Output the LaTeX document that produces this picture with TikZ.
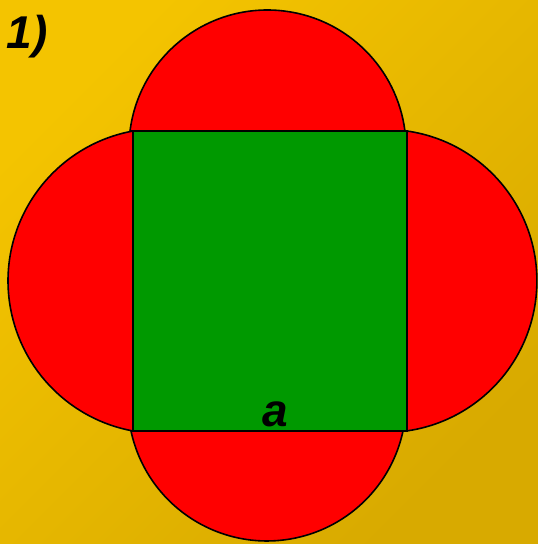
\documentclass[tikz,border=0pt]{standalone}
\usepackage{fontspec}
\setmainfont{Liberation Sans}
\usepackage{tikz}
\usetikzlibrary{positioning}
\definecolor{bgtop}{RGB}{244,196,0}
\definecolor{bgbot}{RGB}{216,170,0}
\definecolor{petalred}{RGB}{255,0,0}
\definecolor{sqgreen}{RGB}{0,153,0}
\tikzset{
  petal/.style   = {draw=black, line width=1.6pt, fill=petalred},
  sqbox/.style   = {draw=black, line width=1.6pt, fill=sqgreen},
  lbl/.style     = {inner sep=0pt, font=\fontsize{46}{46}\selectfont\bfseries\itshape},
}
\begin{document}
\begin{tikzpicture}[x=1pt, y=-1pt]

  %% ---- Background ----
  \useasboundingbox (0,0) rectangle (538,544);
  \shade[shading=axis, top color=bgtop, bottom color=bgbot,
         shading angle=45] (0,0) rectangle (538,544);

  %% ---- Corners of the square ----
  \coordinate (tl) at (133,131);
  \coordinate (tr) at (407,131);
  \coordinate (bl) at (133,431);
  \coordinate (br) at (407,431);

  %% ---- Circle segments on the sides ----
  \draw[petal] (130,131) arc[start angle=187.3, end angle=352.7,
        radius=138.6] -- cycle;
  \draw[petal] (131,431) arc[start angle=167.9, end angle=12.1,
        radius=139.1] -- cycle;
  \draw[petal] (tl) arc[start angle=259.6, end angle=100.4,
        radius=152.5] -- cycle;
  \draw[petal] (tr) arc[start angle=-81.8, end angle=81.8,
        radius=151.5] -- cycle;

  %% ---- Square ----
  \draw[sqbox] (tl) rectangle (br);

  %% ---- Labels ----
  \node[lbl, anchor=base] (num)  at (27,48)   {1)};
  \node[lbl, anchor=base] (side) at (275,426) {a};

\end{tikzpicture}
\end{document}
